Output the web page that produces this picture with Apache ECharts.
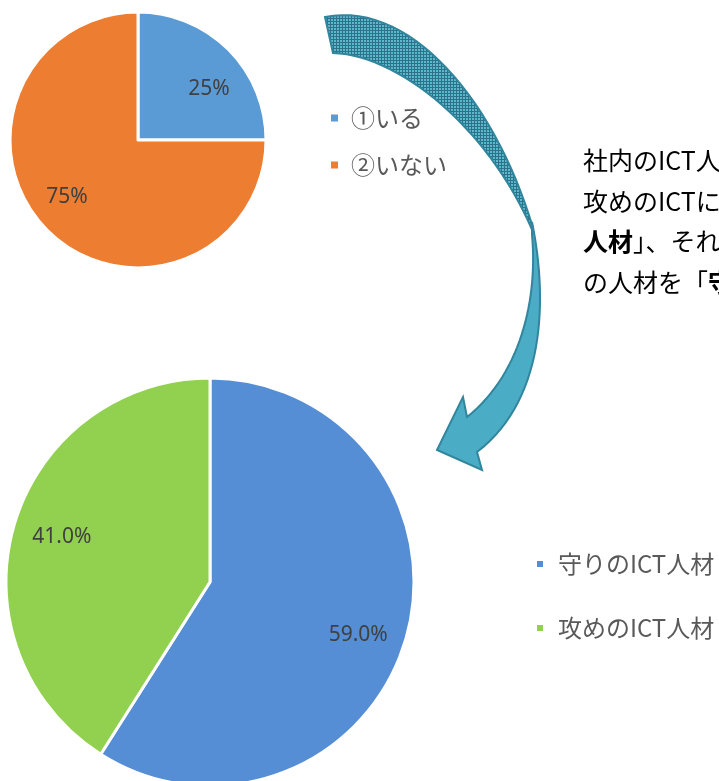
<!DOCTYPE html>
<html>
<head>
<meta charset="utf-8">
<script src="https://cdn.jsdelivr.net/npm/echarts@6/dist/echarts.min.js"></script>
<style>
  html, body { margin: 0; padding: 0; background: #fff; }
  #my-chart { width: 719px; height: 781px; }
</style>
</head>
<body>
<div id="my-chart"></div>
<script>
const topNames = ["①いる", "②いない"];
const topValues = [25, 75];
const topColors = ["#5B9BD5", "#ED7D31"];

const bottomNames = ["守りのICT人材", "攻めのICT人材"];
const bottomValues = [59.0, 41.0];
const bottomColors = ["#558ED5", "#92D050"];

const noteLines = [
  "社内のICT人材のうち、",
  "攻めのICTに携わる人材を「{b|攻めのICT}",
  "{b|人材}」、それ以外の業務に携わる",
  "の人材を「{b|守りのICT人材}」と定義",
];

// hatched fill for the back side of the arrow
function makePattern() {
  const c = document.createElement("canvas");
  c.width = 3;
  c.height = 3;
  const ctx = c.getContext("2d");
  ctx.fillStyle = "#5BB8CF";
  ctx.fillRect(0, 0, 3, 3);
  ctx.fillStyle = "#2C7387";
  ctx.fillRect(0, 0, 3, 1);
  ctx.fillRect(0, 0, 1, 3);
  return c;
}

// sample a cubic bezier into points for a polygon
function bez(p0, p1, p2, p3, n) {
  const pts = [];
  for (let i = 0; i <= n; i++) {
    const t = i / n, u = 1 - t;
    pts.push([
      u * u * u * p0[0] + 3 * u * u * t * p1[0] + 3 * u * t * t * p2[0] + t * t * t * p3[0],
      u * u * u * p0[1] + 3 * u * u * t * p1[1] + 3 * u * t * t * p2[1] + t * t * t * p3[1],
    ]);
  }
  return pts;
}

const arrowBack = bez([325, 17], [410, 0], [495, 100], [533, 228], 30)
  .concat(bez([533, 232], [490, 130], [400, 55], [333, 53], 30));
const arrowFront = bez([532, 222], [548, 300], [545, 400], [477, 452], 30)
  .concat([[482, 470], [437, 450], [463, 397]])
  .concat(bez([467, 417], [520, 375], [538, 300], [532, 235], 30));

function pieData(names, values, colors) {
  return names.map((n, i) => ({ name: n, value: values[i], itemStyle: { color: colors[i] } }));
}

const labelStyle = {
  show: true,
  position: "inside",
  color: "#404040",
  fontSize: 21,
  fontFamily: "Noto Sans",
};

const legendText = { color: "#595959", fontSize: 24, lineHeight: 24, fontFamily: "Noto Sans CJK JP" };

const myChart = echarts.init(document.getElementById("my-chart"));
const option = {
  animation: false,
  legend: [
    {
      data: topNames,
      orient: "vertical",
      left: 329,
      top: 106,
      padding: 0,
      itemWidth: 9,
      itemHeight: 9,
      itemGap: 23,
      icon: "rect",
      textStyle: Object.assign({ padding: [0, 0, 0, 7] }, legendText),
    },
    {
      data: bottomNames,
      orient: "vertical",
      left: 535,
      top: 552,
      padding: 0,
      itemWidth: 8,
      itemHeight: 8,
      itemGap: 40,
      icon: "rect",
      textStyle: Object.assign({ padding: [0, 0, 0, 9] }, legendText),
    },
  ],
  graphic: [
    {
      type: "polygon",
      shape: { points: arrowBack },
      style: {
        fill: { image: makePattern(), repeat: "repeat" },
        stroke: "#31859C",
        lineWidth: 2,
      },
    },
    {
      type: "polygon",
      shape: { points: arrowFront },
      style: { fill: "#4BACC6", stroke: "#31859C", lineWidth: 2 },
    },
  ].concat(
    noteLines.map((t, i) => ({
      type: "text",
      left: 583,
      top: 148 + i * 40.5,
      style: {
        text: t,
        fill: "#000",
        fontSize: 25,
        lineHeight: 25,
        fontFamily: "Noto Sans CJK JP",
        rich: { b: { fontWeight: "bold", fontSize: 25, lineHeight: 25, fontFamily: "Noto Sans CJK JP", fill: "#000" } },
      },
    }))
  ),
  series: [
    {
      type: "pie",
      center: [138, 140],
      radius: [0, 128],
      startAngle: 90,
      label: { show: false },
      itemStyle: { borderColor: "#fff", borderWidth: 3 },
      silent: true,
      data: pieData(topNames, topValues, topColors),
    },
    {
      type: "pie",
      center: [210, 582],
      radius: [0, 204],
      startAngle: 90,
      label: { show: false },
      itemStyle: { borderColor: "#fff", borderWidth: 3 },
      silent: true,
      data: pieData(bottomNames, bottomValues, bottomColors),
    },
    // transparent rings only used to place the labels like the original
    {
      type: "pie",
      center: [138, 140],
      radius: [44, 128],
      startAngle: 82,
      silent: true,
      itemStyle: { color: "transparent" },
      label: Object.assign({}, labelStyle, { formatter: (p) => p.value + "%" }),
      labelLayout: { dy: 3 },
      data: topNames.map((n, i) => ({ name: n, value: topValues[i] })),
    },
    {
      type: "pie",
      center: [210, 582],
      radius: [102, 204],
      startAngle: 88,
      silent: true,
      itemStyle: { color: "transparent" },
      label: Object.assign({}, labelStyle, { formatter: (p) => p.value.toFixed(1) + "%" }),
      labelLayout: { dy: 4 },
      data: bottomNames.map((n, i) => ({ name: n, value: bottomValues[i] })),
    },
  ],
};
myChart.setOption(option);
</script>
</body>
</html>
